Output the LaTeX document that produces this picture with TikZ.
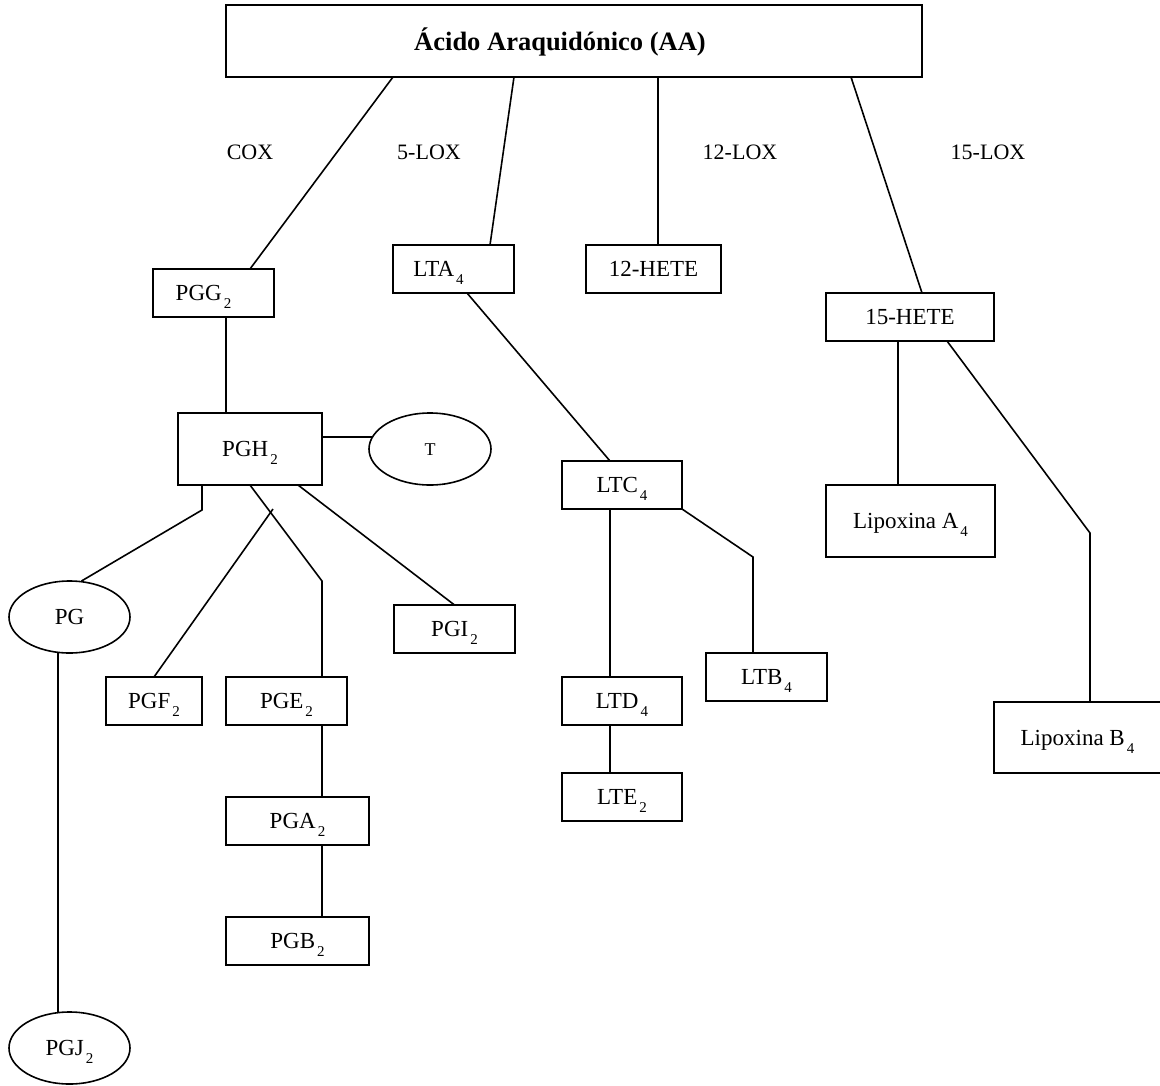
\documentclass[tikz,border=0pt]{standalone}
\usepackage{fontspec}
\setmainfont{Liberation Serif}
\usetikzlibrary{shapes.geometric}
\newcommand\sbt[1]{\hspace{2pt}\raisebox{-8pt}{\fontsize{15}{15}\selectfont #1}}
\begin{document}
\begin{tikzpicture}[x=1pt,y=-1pt,line width=1.6pt,
  every node/.style={inner sep=0pt,outer sep=0pt,text height=15pt,text depth=0pt,font=\fontsize{23}{23}\selectfont},
  bx/.style n args={2}{draw,rectangle,minimum width=#1,minimum height=#2},
  el/.style={draw,ellipse,minimum width=121pt,minimum height=72pt},
  lbl/.style={font=\fontsize{22}{22}\selectfont}]
\path[use as bounding box,fill=white] (0,0) rectangle (1160,1085);
% nodes
\node[bx={696pt}{72pt},font=\bfseries\fontsize{26.5}{26.5}\selectfont,text height=18pt] (title) at (574,41) {Ácido Araquidónico (AA)\hspace*{28pt}};
\node[lbl] (cox) at (250,152) {COX};
\node[lbl] (lox5) at (429,152) {5-LOX};
\node[lbl] (lox12) at (740,152) {12-LOX};
\node[lbl] (lox15) at (988,152) {15-LOX};
\node[bx={121pt}{48pt}] (pgg) at (213.5,293) {PGG\sbt{2}\hspace*{20pt}};
\node[bx={121pt}{48pt}] (lta) at (453.5,269) {LTA\sbt{4}\hspace*{30pt}};
\node[bx={135pt}{48pt}] (hete12) at (653.5,269) {12-HETE};
\node[bx={168pt}{48pt}] (hete15) at (910,317) {15-HETE};
\node[bx={144pt}{72pt}] (pgh) at (250,449) {PGH\sbt{2}};
\node[el,minimum width=122pt,font=\fontsize{18}{18}\selectfont,text height=12pt] (t) at (430,449) {T};
\node[el] (pg) at (69.5,617) {PG};
\node[bx={96pt}{48pt}] (pgf) at (154,701) {PGF\sbt{2}};
\node[bx={121pt}{48pt}] (pge) at (286.5,701) {PGE\sbt{2}};
\node[bx={121pt}{48pt}] (pgi) at (454.5,629) {PGI\sbt{2}};
\node[bx={143pt}{48pt}] (pga) at (297.5,821) {PGA\sbt{2}};
\node[bx={143pt}{48pt}] (pgb) at (297.5,941) {PGB\sbt{2}};
\node[el] (pgj) at (69.5,1048) {PGJ\sbt{2}};
\node[bx={120pt}{48pt}] (ltc) at (622,485) {LTC\sbt{4}};
\node[bx={120pt}{48pt}] (ltd) at (622,701) {LTD\sbt{4}};
\node[bx={120pt}{48pt}] (lte) at (622,797) {LTE\sbt{2}};
\node[bx={121pt}{48pt}] (ltb) at (766.5,677) {LTB\sbt{4}};
\node[bx={169pt}{72pt}] (lipa) at (910.5,521) {Lipoxina A\sbt{4}};
\node[bx={167pt}{71pt}] (lipb) at (1077.5,737.5) {Lipoxina B\sbt{4}};
% connectors
\draw ([xshift=-181pt]title.south) -- ([xshift=36.5pt]pgg.north);
\draw ([xshift=-60pt]title.south) -- ([xshift=36.5pt]lta.north);
\draw ([xshift=84pt]title.south) -- ([xshift=4.5pt]hete12.north);
\draw ([xshift=277pt]title.south) -- ([xshift=12pt]hete15.north);
\draw ([xshift=12.5pt]pgg.south) -- ([xshift=-24pt]pgh.north);
\draw ([yshift=12pt]pgh.east) -- ([xshift=3pt,yshift=12pt]t.west);
\draw ([xshift=-48pt]pgh.south) -- ++(0,25) -- ([xshift=12pt]pg.north);
\draw (pgh.south) -- ++(72,96) -- ([xshift=35.5pt]pge.north);
\coordinate (pgfend) at ([xshift=23pt,yshift=-24pt]pgh.south);
\draw (pgf.north) -- (pgfend);
\draw ([xshift=48pt]pgh.south) -- (pgi.north);
\draw ([xshift=-11.5pt]pg.south) -- ([xshift=-11.5pt]pgj.north);
\draw ([xshift=35.5pt]pge.south) -- ([xshift=24.5pt]pga.north);
\draw ([xshift=24.5pt]pga.south) -- ([xshift=24.5pt]pgb.north);
\draw ([xshift=13.5pt]lta.south) -- ([xshift=-12pt]ltc.north);
\draw ([xshift=-12pt]ltc.south) -- ([xshift=-12pt]ltd.north);
\draw ([xshift=-12pt]ltd.south) -- ([xshift=-12pt]lte.north);
\draw (ltc.south east) -- ++(71,48) -- ([xshift=-13.5pt]ltb.north);
\draw ([xshift=-12pt]hete15.south) -- ([xshift=-12.5pt]lipa.north);
\draw ([xshift=37pt]hete15.south) -- ++(143,192) -- ([xshift=12.5pt]lipb.north);
\end{tikzpicture}
\end{document}
